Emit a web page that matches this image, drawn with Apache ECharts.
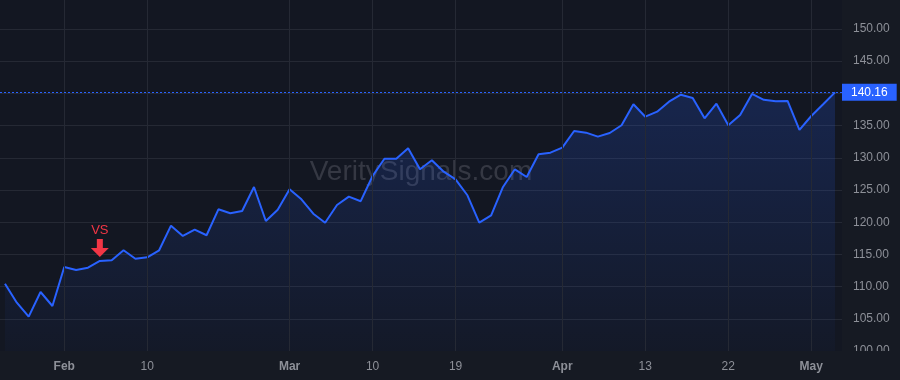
<!DOCTYPE html>
<html>
<head>
<meta charset="utf-8">
<script src="https://cdn.jsdelivr.net/npm/echarts@6/dist/echarts.min.js"></script>
<style>
html,body{margin:0;padding:0;background:#161a23;}
#chart{width:900px;height:380px;}
</style>
</head>
<body>
<div id="chart"></div>
<script>
// Daily closes (trading-day index 0..70)
const values = [
  110.45, 107.5, 105.33, 109.16, 106.99, 113.04, 112.58, 112.93, 113.98, 114.08,
  115.64, 114.33, 114.55, 115.64, 119.46, 117.86, 118.84, 117.97, 122.0, 121.38,
  121.74, 125.47, 120.19, 121.94, 125.11, 123.56, 121.32, 119.92, 122.67, 123.96,
  123.26, 127.17, 129.86, 129.86, 131.48, 128.21, 129.61, 127.84, 126.66, 124.18,
  119.92, 121.07, 125.47, 128.21, 127.02, 130.54, 130.79, 131.57, 134.16, 133.9,
  133.28, 133.85, 135.05, 138.31, 136.38, 137.16, 138.71, 139.8, 139.29, 136.13,
  138.4, 135.05, 136.65, 139.91, 139.0, 138.77, 138.82, 134.32, 136.49, 138.31,
  140.16
];
// x tick positions (trading-day index) and their labels
const tickIndex  = [5, 12, 24, 31, 38, 47, 54, 61, 68];
const tickLabels = ['Feb', '10', 'Mar', '10', '19', 'Apr', '13', '22', 'May'];
const monthLabels = ['Feb', 'Mar', 'Apr', 'May'];
// y tick values
const yTicks = [100, 105, 110, 115, 120, 125, 130, 135, 140, 145, 150];
const lastPrice = 140.16;
const signalIndex = 8;
const signalText = 'VS';

const blue = '#2962ff';
const red = '#f23645';
const txt = '#8d9098';
const gridC = '#252934';
const font = 'Liberation Sans, Arial, sans-serif';

const chart = echarts.init(document.getElementById('chart'), null, {renderer: 'canvas'});
const labelMap = {};
tickIndex.forEach((t, i) => { labelMap[t] = tickLabels[i]; });

chart.setOption({
  backgroundColor: '#161a23',
  animation: false,
  textStyle: {fontFamily: font},
  grid: {left: 0, right: 58, top: 0, bottom: 29, show: true, backgroundColor: '#131722', borderWidth: 0},
  xAxis: {
    type: 'value',
    min: -0.42,
    max: 70.59,
    z: 5,
    axisLine: {show: false},
    axisTick: {show: false, customValues: tickIndex},
    splitLine: {show: true, lineStyle: {color: gridC, width: 1}},
    axisLabel: {
      customValues: tickIndex,
      margin: 10,
      fontSize: 12,
      color: txt,
      formatter: v => {
        const s = labelMap[Math.round(v)] || '';
        return monthLabels.indexOf(s) >= 0 ? '{m|' + s + '}' : s;
      },
      rich: {m: {fontWeight: 'bold', fontSize: 12, color: txt, fontFamily: font}}
    }
  },
  yAxis: {
    type: 'value',
    position: 'right',
    min: 100,
    max: 154.5,
    interval: 5,
    z: 1,
    axisLine: {show: false},
    axisTick: {show: false, customValues: yTicks},
    splitLine: {show: true, lineStyle: {color: gridC, width: 1}},
    axisLabel: {
      customValues: yTicks,
      margin: 11,
      fontSize: 12,
      color: txt,
      formatter: v => v.toFixed(2)
    }
  },
  graphic: [
    {type: 'rect', z: 3, shape: {x: 0, y: 351, width: 900, height: 29}, style: {fill: '#161a23'}, silent: true},
    {type: 'text', z: 1, x: 421, y: 172,
     style: {text: 'VeritySignals.com', font: '28px ' + font, fill: 'rgba(149,152,161,0.26)', textAlign: 'center', textVerticalAlign: 'middle'}}
  ],
  series: [{
    type: 'line',
    data: values.map((v, i) => [i, v]),
    showSymbol: false,
    symbol: 'none',
    lineStyle: {color: blue, width: 2},
    itemStyle: {color: blue},
    areaStyle: {
      color: new echarts.graphic.LinearGradient(0, 0, 0, 1, [
        {offset: 0, color: 'rgba(41,98,255,0.28)'},
        {offset: 1, color: 'rgba(41,98,255,0.04)'}
      ])
    },
    z: 2,
    markLine: {
      silent: true,
      symbol: 'none',
      animation: false,
      lineStyle: {color: blue, type: [2, 2], width: 1},
      label: {
        show: true,
        position: 'end',
        distance: 0,
        formatter: lastPrice.toFixed(2),
        color: '#ffffff',
        fontSize: 12,
        lineHeight: 13,
        backgroundColor: blue,
        padding: [2, 9, 2, 9],
        fontFamily: font
      },
      data: [{yAxis: lastPrice}]
    },
    markPoint: {
      silent: true,
      animation: false,
      data: [{
        coord: [signalIndex, values[signalIndex]],
        symbol: 'path://M6,0L12,0L12,9L18,9L9,18L0,9L6,9Z',
        symbolSize: [18, 18],
        symbolOffset: [0, -13],
        itemStyle: {color: red},
        label: {show: true, position: 'top', distance: 2, formatter: signalText, color: red, fontSize: 13, fontFamily: font}
      }]
    }
  }]
});
</script>
</body>
</html>
